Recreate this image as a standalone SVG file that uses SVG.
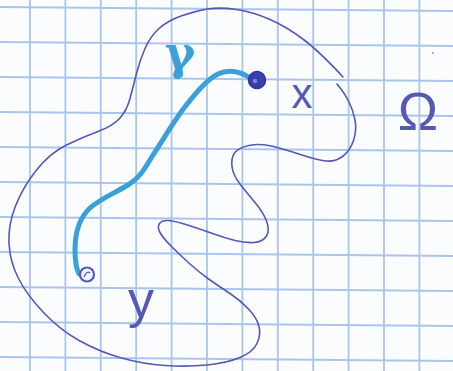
<svg xmlns="http://www.w3.org/2000/svg" width="453" height="371" viewBox="0 0 453 371">
<style>
.grid line{stroke:#a9c5ec;stroke-width:1.8}
.ink{fill:none;stroke:#5558b5;stroke-width:1.6;stroke-linecap:round;stroke-linejoin:round}
.gam{fill:none;stroke:#3aa0da;stroke-width:5;stroke-linecap:round;stroke-linejoin:round}
.lbl{font-family:"Liberation Sans",Arial,sans-serif;fill:#5558b5;text-anchor:middle}
</style>
<rect width="453" height="371" fill="#fbfcfe"/>
<g class="grid" id="grid">
<line x1="30" y1="0" x2="30" y2="371"/>
<line x1="65.4" y1="0" x2="65.4" y2="371"/>
<line x1="100.8" y1="0" x2="100.8" y2="371"/>
<line x1="136.2" y1="0" x2="136.2" y2="371"/>
<line x1="171.6" y1="0" x2="171.6" y2="371"/>
<line x1="207" y1="0" x2="207" y2="371"/>
<line x1="242.4" y1="0" x2="242.4" y2="371"/>
<line x1="277.8" y1="0" x2="277.8" y2="371"/>
<line x1="313.2" y1="0" x2="313.2" y2="371"/>
<line x1="348.6" y1="0" x2="348.6" y2="371"/>
<line x1="384" y1="0" x2="384" y2="371"/>
<line x1="419.4" y1="0" x2="419.4" y2="371"/>
<line x1="0" y1="7" x2="453" y2="11"/>
<line x1="0" y1="42" x2="453" y2="46"/>
<line x1="0" y1="77" x2="453" y2="81"/>
<line x1="0" y1="112" x2="453" y2="116"/>
<line x1="0" y1="147" x2="453" y2="151"/>
<line x1="0" y1="182" x2="453" y2="186"/>
<line x1="0" y1="217" x2="453" y2="221"/>
<line x1="0" y1="252" x2="453" y2="256"/>
<line x1="0" y1="287" x2="453" y2="291"/>
<line x1="0" y1="322" x2="453" y2="326"/>
<line x1="0" y1="357" x2="453" y2="361"/>
</g>
<circle cx="433" cy="53" r="0.9" fill="#8a8fa8"/>
<g id="omega-region">
<path class="ink" d="M 343,77 Q 320,52 303.5,39.5 Q 287,27 270,19.5 Q 253,12 236.5,9.5 Q 220,7 207.5,9 Q 195,11 181,16 Q 167,21 158.5,29 Q 150,37 145,48.5 Q 140,60 136.5,73.5 Q 133,87 130,98.5 Q 127,110 120,118 Q 113,126 98,131.5 Q 83,137 66.5,145 Q 50,153 36.5,170 Q 23,187 15.5,206 Q 8,225 9,243.5 Q 10,262 18.5,278.5 Q 27,295 43.5,312.5 Q 60,330 80,341 Q 100,352 121.5,358 Q 143,364 165,365.5 Q 187,367 207,365 Q 227,363 240,357.5 Q 253,352 257,343.5 Q 261,335 259,326.5 Q 257,318 248.5,309 Q 240,300 230,293.5 Q 220,287 210,280 Q 200,273 190,264 Q 180,255 171.5,246.5 Q 163,238 160,232.5 Q 157,227 159.5,223.5 Q 162,220 168.5,220.5 Q 175,221 187.5,225 Q 200,229 212.5,233.5 Q 225,238 235,240.5 Q 245,243 254,242.5 Q 263,242 266.5,236 Q 270,230 266.5,221 Q 263,212 255,202.5 Q 247,193 240,184 Q 233,175 232,166.5 Q 231,158 234.5,153 Q 238,148 249,145.5 Q 260,143 273.5,146.5 Q 287,150 302,155 Q 317,160 326,161 Q 335,162 342.5,156.5 Q 350,151 353.5,140.5 Q 357,130 355,120 Q 353,110 349,102 Q 345,94 341,89 L 337,84"/>
</g>
<g id="connectors">
<path id="gamma-path" class="gam" d="M 250,78 C 240,71 228,69 218,74 C 206,80 195,94 184,108 C 172,124 163,140 153,155 C 145,168 140,178 128,185 C 115,193 100,199 90,208 C 78,219 75,235 75,250 C 75,262 76,268 79,274"/>
</g>
<g id="point-x">
<circle cx="257" cy="80" r="8.5" fill="#3b3fae" stroke="#2f3296" stroke-width="1.5"/>
<circle cx="255" cy="81" r="2.2" fill="#7f86d6"/>
</g>
<g id="point-y">
<circle cx="87" cy="274.5" r="7" fill="#f4f5fc" stroke="#5558c0" stroke-width="2.2"/>
<path d="M 84,277 Q 87,270 90,273" fill="none" stroke="#5558c0" stroke-width="1.3"/>
</g>
<g id="labels">
<text x="180" y="69" font-size="46" font-weight="bold" style="font-family:'DejaVu Serif',serif;fill:#3aa0da;text-anchor:middle">γ</text>
<text class="lbl" x="302" y="108" font-size="42">x</text>
<text class="lbl" x="418" y="130" font-size="54">Ω</text>
<text class="lbl" x="141" y="317" font-size="52">y</text>
</g>
</svg>
